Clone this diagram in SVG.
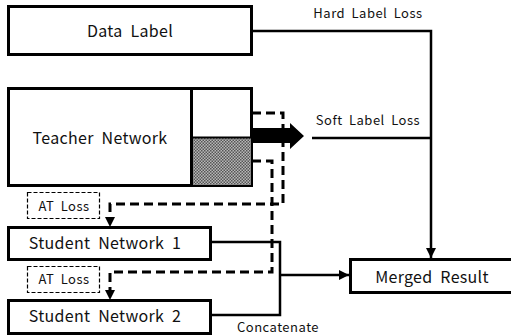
<svg xmlns="http://www.w3.org/2000/svg" width="511" height="336" viewBox="0 0 511 336">
  <style>
    .box { fill: #fff; stroke: #000; stroke-width: 3; }
    .atbox { fill: #fff; stroke: #000; stroke-width: 1.2; stroke-dasharray: 4 2; }
    .lbl { font-family: "Noto Sans CJK KR", "Noto Sans", sans-serif; fill: #111; text-anchor: middle; }
    .big { font-size: 16px; letter-spacing: 0.3px; word-spacing: 4px; }
    .small { font-size: 13px; letter-spacing: 0.5px; word-spacing: 3px; }
    .wire { fill: none; stroke: #000; stroke-width: 2.5; }
    .dash { fill: none; stroke: #000; stroke-width: 3; stroke-dasharray: 9 5; }
  </style>
  <defs>
    <pattern id="dots" width="3" height="3" patternUnits="userSpaceOnUse">
      <rect width="3" height="3" fill="#b8b8b8"/>
      <rect width="1.5" height="1.5" fill="#555"/>
      <rect x="1.5" y="1.5" width="1.5" height="1.5" fill="#555"/>
    </pattern>
    <marker id="arr" viewBox="0 0 10 10" refX="10" refY="5" markerWidth="10" markerHeight="10" markerUnits="userSpaceOnUse" orient="auto">
      <path d="M0,0 L10,5 L0,10 Z" fill="#000"/>
    </marker>
  </defs>

  <rect width="511" height="336" fill="#fff"/>

  <g id="data-label">
    <rect class="box" x="8.5" y="6.5" width="243" height="48"/>
    <text class="lbl big" x="130" y="37">Data Label</text>
  </g>

  <g id="teacher-network">
    <rect class="box" x="8.5" y="88.5" width="243" height="97"/>
    <rect x="191" y="138" width="60" height="47" fill="url(#dots)"/>
    <line x1="191.5" y1="88" x2="191.5" y2="186" stroke="#000" stroke-width="3"/>
    <line x1="191" y1="137.5" x2="251" y2="137.5" stroke="#000" stroke-width="2"/>
    <text class="lbl big" x="100" y="144">Teacher Network</text>
  </g>

  <g id="at-loss-1">
    <rect class="atbox" x="27.5" y="192.5" width="72" height="26"/>
    <text class="lbl small" x="64" y="211">AT Loss</text>
  </g>

  <g id="at-loss-2">
    <rect class="atbox" x="27.5" y="266.5" width="72" height="26"/>
    <text class="lbl small" x="64" y="284">AT Loss</text>
  </g>

  <g id="student-network-1">
    <rect class="box" x="8.5" y="227.5" width="202" height="32"/>
    <text class="lbl big" x="105" y="249">Student Network 1</text>
  </g>

  <g id="student-network-2">
    <rect class="box" x="8.5" y="300.5" width="202" height="33"/>
    <text class="lbl big" x="105" y="322">Student Network 2</text>
  </g>

  <g id="merged-result">
    <rect class="box" x="350.5" y="259.5" width="165" height="33"/>
    <text class="lbl big" x="432" y="283">Merged Result</text>
  </g>

  <g id="connectors">
    <!-- hard label loss -->
    <polyline class="wire" points="252,31 431,31 431,258" marker-end="url(#arr)"/>
    <text class="lbl small" x="368" y="18">Hard Label Loss</text>

    <!-- soft label transfer -->
    <polygon points="253,128 290,128 290,123 304,136 290,149 290,143 253,143" fill="#000"/>
    <line class="wire" x1="312" y1="138" x2="431" y2="138"/>
    <text class="lbl small" x="368" y="125">Soft Label Loss</text>

    <!-- attention transfer -->
    <polyline class="dash" points="252,113 283,113 283,204 110,204 110,218"/>
    <path d="M105,217 L115,217 L110,227 Z" fill="#000"/>
    <polyline class="dash" points="252,161 272,161 272,272 110,272 110,291"/>
    <path d="M105,290 L115,290 L110,300 Z" fill="#000"/>

    <!-- concatenation -->
    <polyline class="wire" points="210,242 280,242 280,315 210,315"/>
    <line class="wire" x1="280" y1="275" x2="349" y2="275" marker-end="url(#arr)"/>
    <text class="lbl small" x="278" y="332">Concatenate</text>
  </g>
</svg>
